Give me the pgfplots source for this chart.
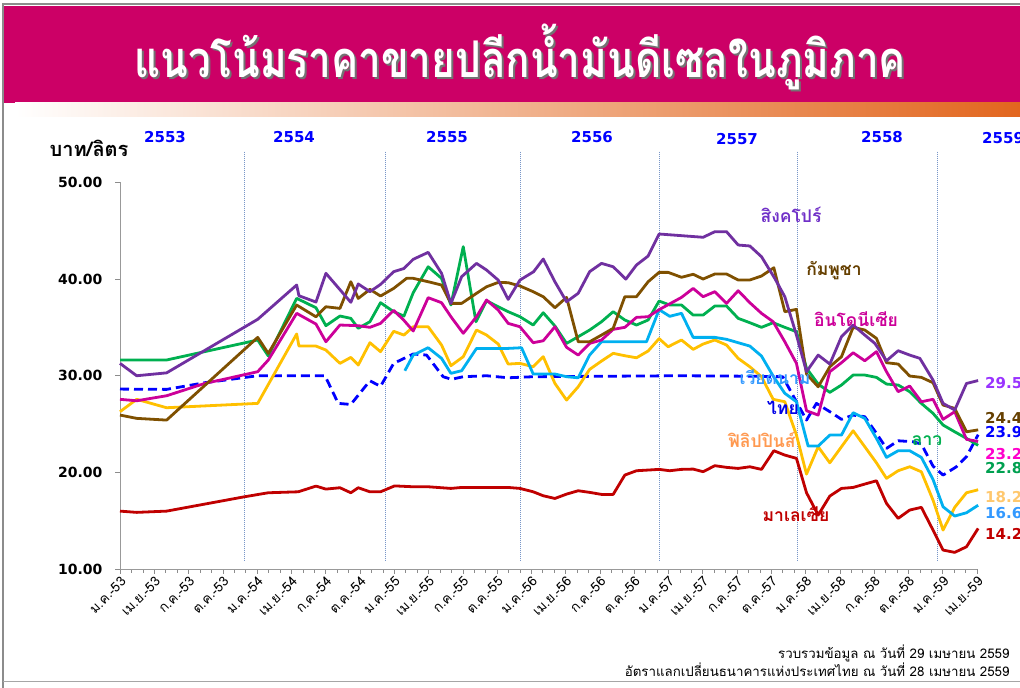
\documentclass[border=0pt]{standalone}
\usepackage{pgfplots}
\pgfplotsset{compat=1.18}
\usepackage{fontspec}
\setmainfont{DejaVu Sans}
\newfontfamily\thaifont[Script=Thai]{Loma}
\definecolor{titlemag}{RGB}{204,0,102}
\definecolor{orangeend}{RGB}{226,102,30}
\definecolor{midpink}{RGB}{238,175,155}
\definecolor{sgp}{RGB}{112,48,160}
\definecolor{khm}{RGB}{127,80,0}
\definecolor{lao}{RGB}{0,176,80}
\definecolor{idn}{RGB}{204,0,153}
\definecolor{vnm}{RGB}{0,176,240}
\definecolor{tha}{RGB}{0,0,255}
\definecolor{phl}{RGB}{255,192,0}
\definecolor{mys}{RGB}{192,0,0}
\definecolor{sgpL}{RGB}{112,48,200}
\definecolor{khmL}{RGB}{102,64,0}
\definecolor{vnmL}{RGB}{51,153,255}
\definecolor{thaL}{RGB}{0,0,230}
\definecolor{phlL}{RGB}{255,153,80}
\definecolor{sgpV}{RGB}{153,51,255}
\definecolor{idnV}{RGB}{255,0,204}
\definecolor{laoV}{RGB}{0,160,80}
\definecolor{phlV}{RGB}{255,200,110}
\definecolor{divider}{RGB}{120,150,200}
\begin{document}
\begin{tikzpicture}[x=1pt,y=1pt]
\useasboundingbox (0,0) rectangle (1020,688);
\clip (0,0) rectangle (1020,688);
\fill[white] (0,0) rectangle (1020,688);
% title band
\fill[titlemag] (4,585) rectangle (1020,682);
\shade[left color=white, middle color=midpink, right color=orangeend] (15,571) rectangle (1020,585);
\draw[black!45, line width=1.5pt] (3,0) -- (3,684) -- (1020,684);
\draw[black!35, line width=1pt] (3,6) -- (1020,6);
\node[text=black!55, font=\thaifont\bfseries\fontsize{44}{50}\selectfont, xscale=0.92, yscale=1.15] at (522,629) {แนวโน้มราคาขายปลีกน้ำมันดีเซลในภูมิภาค};
\node[text=white, font=\thaifont\bfseries\fontsize{44}{50}\selectfont, xscale=0.92, yscale=1.15] at (520,631) {แนวโน้มราคาขายปลีกน้ำมันดีเซลในภูมิภาค};

\begin{axis}[
  at={(120pt,119pt)}, anchor=south west,
  scale only axis, width=857pt, height=386.5pt,
  xmin=0, xmax=75, ymin=10, ymax=50,
  clip=false,
  axis lines*=left,
  axis line style={draw=black!40, line width=0.8pt},
  xtick={0,3,...,75},
  xticklabels={ม.ค.-53, เม.ย.-53, ก.ค.-53, ต.ค.-53, ม.ค.-54, เม.ย.-54, ก.ค.-54, ต.ค.-54, ม.ค.-55, เม.ย.-55, ก.ค.-55, ต.ค.-55, ม.ค.-56, เม.ย.-56, ก.ค.-56, ต.ค.-56, ม.ค.-57, เม.ย.-57, ก.ค.-57, ต.ค.-57, ม.ค.-58, เม.ย.-58, ก.ค.-58, ต.ค.-58, ม.ค.-59, เม.ย.-59},
  minor x tick num=2,
  ytick={10,20,30,40,50},
  yticklabels={10.00,20.00,30.00,40.00,50.00},
  tick align=outside,
  major tick length=5pt, minor tick length=4pt,
  tick style={draw=black!45, line width=0.6pt},
  x tick label style={rotate=45, anchor=north east, font=\thaifont\fontsize{13.5}{14}\selectfont, inner sep=1pt},
  y tick label style={font=\bfseries\fontsize{14}{16}\selectfont, xshift=-9pt},
  every axis plot/.append style={line width=2.8pt, line join=round},
]
% year dividers
\foreach \m in {10.88,23.18,35.06,47.18,59.29,71.5}{
  \edef\tmp{\noexpand\draw[divider, line width=0.6pt, dash pattern=on 1pt off 1pt] (axis cs:\m,53.19) -- (axis cs:\m,10.85);}\tmp
}
% Thailand
\addplot[color=tha, dash pattern=on 9pt off 5pt] coordinates {
(0,28.62) (4.08,28.59) (7.43,29.28) (9.19,29.55) (12.05,30.0) (17.94,30.0) (19.1,27.14) (20.2,27.03) (21.87,29.48) (22.8,28.9) (23.95,31.28) (25.66,32.25) (26.83,32.14) (28.28,29.9) (29.0,29.63) (30.04,29.9) (32.08,30.0) (33.97,29.79) (36.16,29.9) (49.0,30.0) (55.12,29.95) (58.0,29.9) (60.08,25.41) (60.95,27.14) (62.12,26.28) (63.14,25.49) (64.16,25.93) (65.18,25.76) (66.2,24.04) (67.08,22.48) (68.1,23.27) (69.41,23.17) (70.13,22.93) (71.15,20.65) (72.03,19.72) (73.2,20.58) (74.08,21.62) (75.1,23.9)};
% Malaysia
\addplot[color=mys] coordinates {
(0,15.99) (1.46,15.86) (4.08,15.99) (7.43,16.72) (10.87,17.47) (12.98,17.89) (15.6,17.99) (17.15,18.58) (18.02,18.27) (19.25,18.41) (20.2,17.89) (20.85,18.41) (21.87,17.99) (22.8,17.99) (24.03,18.6) (25.66,18.51) (26.97,18.51) (28.96,18.34) (29.9,18.44) (33.97,18.44) (35.0,18.34) (36.16,17.99) (37.04,17.58) (38.06,17.3) (39.08,17.75) (40.1,18.1) (41.1,17.93) (42.14,17.72) (43.16,17.72) (44.18,19.72) (45.2,20.17) (46.22,20.24) (47.18,20.31) (48.11,20.17) (49.14,20.31) (50.16,20.34) (51.03,20.07) (52.06,20.69) (53.08,20.52) (54.1,20.41) (55.12,20.58) (56.14,20.31) (57.22,22.24) (58.18,21.79) (59.2,21.45) (60.08,17.89) (61.1,15.58) (62.12,17.55) (63.14,18.34) (64.16,18.44) (65.18,18.79) (66.2,19.13) (67.08,16.79) (68.1,15.24) (69.11,16.1) (70.13,16.38) (71.15,14.03) (72.03,11.96) (73.05,11.72) (74.08,12.3) (75.1,14.2)};
% Philippines
\addplot[color=phl] coordinates {
(0,26.28) (1.46,27.56) (4.08,26.69) (12.05,27.14) (15.46,34.32) (15.66,33.07) (17.15,33.07) (18.02,32.66) (19.25,31.28) (20.2,31.9) (20.85,31.11) (21.87,33.42) (22.8,32.49) (23.95,34.6) (24.85,34.21) (25.66,35.07) (26.97,35.07) (28.14,33.18) (28.96,31.04) (30.04,31.97) (31.2,34.73) (32.08,34.21) (33.1,33.28) (33.97,31.21) (35.0,31.28) (36.16,30.93) (37.04,31.97) (38.06,29.21) (39.08,27.48) (40.1,28.86) (41.1,30.66) (42.14,31.52) (43.16,32.32) (44.18,32.07) (45.2,31.86) (46.22,32.56) (47.18,33.84) (47.97,33.0) (49.14,33.7) (50.16,32.73) (51.03,33.28) (52.06,33.7) (53.08,33.18) (54.1,31.8) (55.12,30.93) (56.14,29.9) (57.16,27.56) (58.18,27.31) (59.2,23.86) (60.08,19.82) (61.1,22.65) (62.12,20.99) (63.14,22.65) (64.16,24.31) (65.18,22.65) (66.2,20.99) (67.08,19.38) (68.1,20.17) (69.11,20.58) (70.13,20.06) (71.15,17.13) (72.03,14.03) (73.05,16.38) (74.08,17.89) (75.1,18.2)};
% Vietnam
\addplot[color=vnm] coordinates {
(24.93,30.52) (25.66,32.14) (26.97,32.9) (28.14,31.8) (28.96,30.25) (29.9,30.52) (31.2,32.83) (33.97,32.83) (35.14,32.9) (36.16,30.18) (38.06,30.18) (39.08,29.9) (40.1,29.79) (41.1,32.14) (42.14,33.52) (46.08,33.52) (47.18,36.84) (48.11,36.15) (49.14,36.46) (50.16,33.97) (52.06,33.97) (53.08,33.77) (54.1,33.42) (55.12,33.07) (56.14,32.04) (57.16,29.97) (58.18,28.18) (59.2,27.31) (60.22,22.72) (61.1,22.72) (62.12,23.86) (63.14,23.86) (64.16,26.17) (65.18,25.59) (66.2,23.52) (67.08,21.55) (68.1,22.24) (69.11,22.24) (70.13,21.55) (71.15,19.27) (72.03,16.44) (73.05,15.48) (74.08,15.82) (75.1,16.6)};
% Laos
\addplot[color=lao] coordinates {
(0,31.63) (4.08,31.63) (12.05,33.7) (12.98,32.04) (15.46,38.01) (17.15,37.04) (18.02,35.18) (19.25,36.18) (20.2,35.94) (20.85,34.91) (21.87,35.59) (22.8,37.56) (23.95,36.63) (24.85,36.18) (25.66,38.59) (26.97,41.28) (28.14,40.08) (28.96,37.32) (30.04,43.36) (31.15,35.59) (32.08,37.76) (33.1,37.14) (33.97,36.63) (35.0,36.11) (36.16,35.25) (37.04,36.52) (38.06,35.15) (39.08,33.35) (40.1,34.04) (41.1,34.73) (42.14,35.59) (43.16,36.63) (44.18,35.77) (45.2,35.25) (46.22,35.77) (47.18,37.73) (48.11,37.32) (49.14,37.32) (50.16,36.28) (51.03,36.28) (52.06,37.22) (53.08,37.22) (54.1,35.94) (55.12,35.49) (56.14,35.01) (57.16,35.49) (58.18,35.01) (59.2,34.56) (60.08,30.77) (61.1,29.14) (62.12,28.28) (63.14,29.04) (64.16,30.07) (65.18,30.07) (66.2,29.83) (67.08,29.14) (68.1,29.04) (69.11,28.35) (70.13,27.14) (71.15,26.11) (72.03,24.9) (73.05,24.2) (74.08,23.52) (75.1,22.8)};
% Indonesia
\addplot[color=idn] coordinates {
(0,27.56) (1.46,27.41) (4.08,27.93) (7.43,29.21) (9.19,29.66) (12.05,30.42) (12.98,31.63) (15.46,36.46) (17.15,35.35) (18.02,33.52) (19.25,35.25) (20.85,35.18) (21.87,35.01) (22.8,35.42) (23.95,36.77) (24.85,35.73) (25.66,34.63) (26.97,38.08) (28.14,37.56) (28.96,36.11) (30.04,34.39) (31.2,36.11) (32.08,37.84) (33.1,36.8) (33.97,35.42) (35.0,35.07) (36.16,33.42) (37.04,33.62) (38.06,35.07) (39.08,32.94) (40.1,32.14) (41.1,33.35) (42.14,33.7) (43.16,34.8) (44.18,35.01) (45.2,36.04) (46.22,36.11) (47.18,36.84) (49.14,38.11) (50.16,39.04) (51.03,38.18) (52.06,38.7) (53.08,37.49) (54.1,38.8) (55.12,37.56) (56.14,36.46) (57.16,35.59) (58.18,33.52) (59.2,31.28) (60.08,26.38) (61.1,25.93) (62.12,30.42) (63.14,31.35) (64.16,32.38) (65.18,31.55) (66.2,32.49) (67.08,30.42) (68.1,28.35) (69.11,28.93) (70.13,27.31) (71.15,27.56) (72.03,25.49) (73.05,26.28) (74.08,23.42) (75.1,23.2)};
% Cambodia
\addplot[color=khm] coordinates {
(0,25.93) (1.46,25.59) (4.08,25.41) (12.05,33.97) (12.98,32.31) (15.46,37.32) (17.15,36.1) (18.02,37.14) (19.25,36.97) (20.2,39.73) (20.85,38.0) (21.87,38.94) (22.8,38.25) (23.95,39.04) (25.08,40.08) (25.66,40.08) (26.97,39.73) (28.14,39.39) (28.96,37.49) (29.9,37.49) (31.2,38.53) (32.08,39.21) (33.1,39.66) (33.97,39.63) (35.0,39.29) (36.16,38.7) (37.04,38.18) (38.06,37.04) (39.08,38.11) (40.1,33.52) (41.1,33.52) (42.14,34.21) (43.16,34.91) (44.18,38.18) (45.2,38.18) (46.22,39.73) (47.18,40.7) (47.97,40.7) (49.14,40.19) (50.16,40.5) (51.03,40.01) (52.06,40.53) (53.08,40.53) (54.1,39.91) (55.12,39.91) (56.14,40.32) (57.22,41.18) (58.18,36.63) (59.2,36.87) (60.08,30.18) (61.1,28.86) (62.12,30.93) (63.14,31.97) (64.16,35.01) (65.18,34.73) (66.2,33.87) (67.08,31.35) (68.1,31.21) (69.11,29.97) (70.13,29.83) (71.15,29.28) (72.03,26.97) (73.05,26.62) (74.08,24.2) (75.1,24.4)};
% Singapore
\addplot[color=sgp] coordinates {
(0,31.28) (1.46,30.0) (4.08,30.3) (12.05,35.84) (15.46,39.39) (15.66,38.28) (17.15,37.63) (18.02,40.6) (20.2,37.6) (20.85,39.5) (21.87,38.7) (22.8,39.45) (23.95,40.77) (24.85,41.1) (25.66,42.05) (26.97,42.77) (28.14,40.6) (28.96,37.49) (29.9,40.25) (31.2,41.63) (32.08,40.94) (33.1,39.9) (33.97,37.9) (35.0,39.9) (36.2,40.77) (37.04,42.08) (38.06,39.73) (39.08,37.66) (40.1,38.53) (41.1,40.77) (42.14,41.63) (43.16,41.28) (44.27,40.0) (45.2,41.46) (46.22,42.39) (47.18,44.67) (51.03,44.33) (52.06,44.91) (53.08,44.91) (54.1,43.53) (55.12,43.43) (56.14,42.32) (57.3,40.08) (58.18,38.18) (59.2,34.21) (60.08,30.42) (61.1,32.14) (62.12,31.21) (63.14,34.04) (64.16,35.25) (65.18,34.21) (66.06,33.35) (67.08,31.55) (68.1,32.59) (69.11,32.14) (70.0,31.8) (71.15,29.55) (72.03,27.14) (73.05,26.45) (74.08,29.2) (75.1,29.5)};
\end{axis}

% axis title
\node[font=\thaifont\bfseries\fontsize{20}{22}\selectfont] at (89,540) {บาท/ลิตร};
% year labels
\begin{scope}[every node/.style={text=tha, font=\bfseries\fontsize{15}{17}\selectfont}]
\node at (165,551) {2553};
\node at (294,551) {2554};
\node at (447,551) {2555};
\node at (592,551) {2556};
\node at (737,549) {2557};
\node at (882,551) {2558};
\node[anchor=west, inner sep=0pt] at (982,550) {2559};
\end{scope}
% series labels
\begin{scope}[every node/.style={font=\thaifont\bfseries\fontsize{17.5}{19}\selectfont, inner sep=0pt}]
\node[text=sgpL] at (791,473) {สิงคโปร์};
\node[text=khmL] at (834,417) {กัมพูชา};
\node[text=idn] at (856,369) {อินโดนีเซีย};
\node[text=vnmL] at (775,311) {เวียดนาม};
\node[text=thaL] at (783,280) {ไทย};
\node[text=phlL] at (762,248) {ฟิลิปปินส์};
\node[text=lao] at (927,247) {ลาว};
\node[text=mys] at (796,174) {มาเลเซีย};
\end{scope}
% end values
\begin{scope}[every node/.style={font=\bfseries\fontsize{15}{17}\selectfont, anchor=west, inner sep=0pt}]
\node[text=sgpV] at (985,304.5) {29.52};
\node[text=khmL] at (985,270) {24.40};
\node[text=tha] at (985,256) {23.90};
\node[text=idnV] at (985,233.5) {23.20};
\node[text=laoV] at (985,219.5) {22.80};
\node[text=phlV] at (985,190.5) {18.20};
\node[text=vnmL] at (985,175) {16.60};
\node[text=mys] at (985,154) {14.20};
\end{scope}
% footer
\node[anchor=east, font=\thaifont\fontsize{13.3}{15}\selectfont] at (1013,35) {รวบรวมข้อมูล ณ วันที่ 29 เมษายน 2559};
\node[anchor=east, font=\thaifont\fontsize{13.3}{15}\selectfont] at (1013,18) {อัตราแลกเปลี่ยนธนาคารแห่งประเทศไทย ณ วันที่ 28 เมษายน 2559};
\end{tikzpicture}
\end{document}
